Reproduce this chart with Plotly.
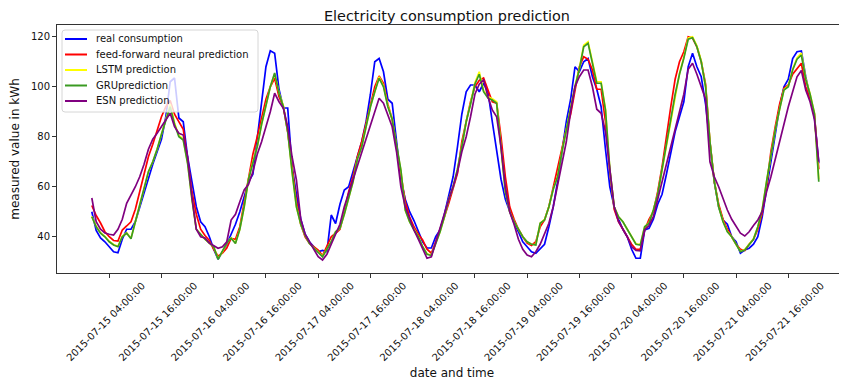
import pandas as pd
import plotly.graph_objects as go

# ---------------- data ----------------
times = pd.date_range("2015-07-15 00:00", periods=168, freq="h")

real_consumption = [
    50, 42.5, 39.5, 38, 36, 34, 33.6, 39, 43, 43, 46, 52, 57, 63, 69, 74, 79, 88, 102, 103.5, 87.5, 86, 72, 62,
    52, 46, 44, 40, 35, 31, 34, 37, 41, 45, 50, 56, 62, 65, 80, 95, 108, 114.4, 113.4, 99, 91.5, 91.5, 68, 57,
    47, 41, 38, 36, 34, 34.5, 34, 48.7, 45.3, 53, 58.7, 60, 66, 72, 78, 86, 97, 110, 111.3, 106, 95, 93.4, 78, 63,
    55, 50, 46.5, 42, 38, 35.5, 35.5, 40, 42.7, 49, 57, 64, 76, 89, 98, 100.7, 100.7, 98, 101.4, 98, 86, 75, 63, 55,
    50, 45.4, 42, 38, 36, 34, 33.4, 35, 37, 44, 52, 62, 75, 86, 95, 108, 106, 110, 111.3, 104, 99, 92, 75, 60,
    52, 47, 43, 40, 35, 31.4, 31.4, 42.7, 43.4, 47, 53, 57, 65, 73, 82, 88, 94, 108, 113.4, 108, 104, 93, 78, 62,
    52, 46.7, 45, 40, 38, 33.4, 34.7, 35.4, 37, 40, 48, 60, 70, 81, 92, 100, 103, 111.3, 114, 114.3, 104, 96, 88, 69.4,
]

ffnn_prediction = [
    52.5, 48.5, 45.5, 42, 40, 38.5, 38.3, 42.7, 44.3, 46, 51, 58, 65, 72, 77, 83, 88, 92, 94.5, 89, 86, 83, 71, 58,
    49, 43, 40.5, 38.5, 35, 32.2, 33.5, 35.5, 39.3, 39, 44, 54, 64, 73, 80, 88, 95, 100, 103.4, 96, 92, 82, 67, 54,
    45, 40, 37.3, 36, 34.7, 32.5, 36, 40, 41.4, 43, 50, 58, 64, 72, 78, 85, 92, 100, 104.3, 101.4, 93, 87, 76, 64,
    54, 48, 44, 41, 38.7, 35, 33.4, 38, 42.7, 48, 53.4, 59, 65.4, 78, 86, 94, 100, 102.5, 103.5, 99, 94, 93.4, 80, 64,
    52, 47, 43, 40, 37.5, 36.5, 38, 44, 46.7, 52, 60, 67, 76, 83, 89, 98, 108, 112, 111, 106.7, 99, 99, 86, 66,
    51, 46, 43, 40, 37, 35, 35, 42.7, 47, 50, 58, 68, 81, 92, 103, 110, 114, 120, 119.5, 116, 110, 101, 78, 62,
    53, 47, 43, 40, 37, 35, 34.5, 37, 39, 43, 49.4, 60, 74, 84, 93, 99.4, 100.7, 105, 107, 109.4, 100, 95, 89, 67,
]

lstm_prediction = [
    48.2, 44.2, 41.6, 40.2, 38.2, 36.9, 36.2, 40.2, 41.6, 39.4, 46, 53, 59, 66, 70, 75, 81, 87.5, 93, 85.5, 80.5, 79, 69.6, 55.2,
    43, 41, 39, 37.5, 36, 31.2, 34, 37.5, 39.6, 37.5, 43, 52, 63, 70, 76, 85, 93, 100, 105.2, 97.6, 92.4, 82.3, 66, 52,
    45, 40.5, 37.5, 35.5, 34, 32.2, 35, 38, 42, 43.4, 49, 56, 62, 71, 76, 84, 92, 98, 104, 100.4, 92.4, 87.3, 76, 66.7,
    50.7, 46, 42.7, 40, 36, 33.2, 32.7, 37, 42, 48, 55, 60, 67, 76, 86, 93.4, 101.6, 106, 98.4, 96, 95.2, 94, 77.4, 58,
    50, 46, 43, 40, 38, 37, 36.9, 45.4, 46.9, 52, 59, 64, 74, 83, 92, 100.3, 107.4, 116.6, 118, 110.5, 102, 102, 91, 67,
    52, 48, 46, 43, 40, 37.2, 36.9, 44, 45.6, 50.7, 57, 67, 77, 86, 97, 105.3, 111.8, 119.5, 120, 116.4, 110.4, 100, 78, 62.3,
    52, 46.2, 42.2, 40, 36.9, 34.2, 34.9, 36.9, 39.2, 44, 50.9, 62, 73, 82.7, 91, 98.9, 100.3, 107, 111.5, 113.5, 103.4, 97.2, 89.6, 63,
]

gru_prediction = [
    48, 44, 41.4, 40, 38, 36.7, 36, 40, 41.4, 39.2, 46, 53, 59, 66, 70, 75, 81, 87, 92, 85, 80, 78.7, 69.4, 55,
    43, 41, 39, 37.5, 36, 31, 34, 37.5, 39.4, 37.3, 43, 52, 63, 70, 76, 85, 93, 100, 105.5, 97.4, 92, 82, 66, 52,
    45, 40.5, 37.3, 35.5, 34, 32, 35, 38, 42, 43.4, 49, 56, 62, 71, 76, 84, 92, 98, 103.4, 100, 92, 87, 76, 66.7,
    50.7, 46, 42.7, 40, 36, 33, 32.5, 37, 42, 48, 55, 60, 67, 76, 86, 93, 101, 105, 98, 95.5, 94.7, 93.4, 77, 58,
    50, 46, 43, 40, 38, 37, 36.7, 45.4, 46.7, 52, 59, 64, 74, 83, 92, 100, 107, 116, 117.4, 110, 101.4, 101.4, 90.7, 67,
    52, 48, 46, 43, 40, 37, 36.7, 44, 45.4, 50.7, 57, 67, 77, 86, 97, 105, 111.4, 119, 119.6, 116, 110, 100, 78, 62,
    52, 46, 42, 40, 36.7, 34, 34.7, 36.7, 39, 44, 50.7, 62, 73, 82.7, 91, 98.7, 100, 106.7, 111, 112.7, 103, 97, 89.4, 62,
]

esn_prediction = [
    55.5, 46, 43, 41.5, 41, 40.7, 43, 47, 53.4, 56.5, 60, 64, 69, 75, 79, 81.4, 84, 86.7, 89.4, 84, 81.4, 80.7, 72, 56,
    43, 40, 39.5, 37.5, 36.5, 35.4, 36, 38, 46.7, 49, 54, 58.7, 61, 66, 73, 78, 84, 90, 97.4, 94, 91.4, 84, 72, 62.7,
    47, 41, 38, 35, 32, 30.7, 33, 37, 41.4, 45, 52, 57.4, 62, 68, 73.4, 79, 84, 90, 95.4, 93.4, 89, 84, 74, 60,
    52, 47, 42.7, 39, 35, 31.4, 32, 38, 44, 49, 55, 60, 66, 74, 80, 88, 97, 101, 102.7, 96, 90.7, 88, 76, 60,
    50, 45, 39, 35, 32.7, 32, 34, 37, 41, 45.4, 52, 61, 69, 78, 90, 100, 104, 106.7, 106.7, 100, 91, 89.4, 82, 66,
    52, 46, 43, 40, 36, 34.5, 34.4, 42.7, 44.5, 48, 55, 62, 69, 76, 83, 89, 97, 107, 109.4, 105, 100, 95, 70, 64,
    60, 55, 50.7, 47, 44, 41.4, 40.3, 42, 44.5, 46.7, 50, 58, 64, 71, 79, 85.4, 92, 98, 104, 106.5, 98.7, 94, 87, 70,
]

series_names = ["real consumption", "feed-forward neural prediction", "LSTM prediction",
                "GRUprediction", "ESN prediction"]
series_colors = ["#0000ff", "#ff0000", "#ffff00", "#3a9a22", "#800080"]

tick_values = ["2015-07-15 04:00:00", "2015-07-15 16:00:00", "2015-07-16 04:00:00",
               "2015-07-16 16:00:00", "2015-07-17 04:00:00", "2015-07-17 16:00:00",
               "2015-07-18 04:00:00", "2015-07-18 16:00:00", "2015-07-19 04:00:00",
               "2015-07-19 16:00:00", "2015-07-20 04:00:00", "2015-07-20 16:00:00",
               "2015-07-21 04:00:00", "2015-07-21 16:00:00", "2015-07-22 04:00:00"]
tick_labels = tick_values[:-1] + [""]
y_ticks = [40, 60, 80, 100, 120]

# ---------------- figure ----------------
# the page body adds an 8px offset, so the figure is drawn 8px smaller
OFF = 8
SW, SH = 847, 385            # screen size
PL, PR, PT, PB = 57, 847, 25, 273   # plot area in screen pixels
W, H = SW - OFF, SH - OFF
L, T = PL - OFF, PT - OFF
R = W - (PR - OFF)
B = H - (PB - OFF)
PW, PH = PR - PL, PB - PT
FONT = "DejaVu Sans"

fig = go.Figure()
all_series = [real_consumption, ffnn_prediction, lstm_prediction, gru_prediction, esn_prediction]
for vals, name, col in zip(all_series, series_names, series_colors):
    fig.add_trace(go.Scatter(x=times, y=vals, mode="lines", name=name,
                             line=dict(color=col, width=1.7), showlegend=False))

x_start = pd.Timestamp("2015-07-14 16:00")
x_end = x_start + pd.Timedelta(hours=PW / 4.353)


def px(xs):
    return (xs - PL) / PW


def py(ys):
    return (PB - ys) / PH


# manual legend (matplotlib style)
shapes = []
annotations = []
bx0, bx1, by0, by1, r = 62, 258, 30, 112, 3
path = (f"M {px(bx0 + r)},{py(by0)} L {px(bx1 - r)},{py(by0)} "
        f"Q {px(bx1)},{py(by0)} {px(bx1)},{py(by0 + r)} "
        f"L {px(bx1)},{py(by1 - r)} Q {px(bx1)},{py(by1)} {px(bx1 - r)},{py(by1)} "
        f"L {px(bx0 + r)},{py(by1)} Q {px(bx0)},{py(by1)} {px(bx0)},{py(by1 - r)} "
        f"L {px(bx0)},{py(by0 + r)} Q {px(bx0)},{py(by0)} {px(bx0 + r)},{py(by0)} Z")
shapes.append(dict(type="path", xref="paper", yref="paper", path=path,
                   fillcolor="rgba(255,255,255,0.8)", line=dict(color="#d6d6d6", width=1)))
entry_y = [39, 54.5, 70, 85.5, 101]
for yy, name, col in zip(entry_y, series_names, series_colors):
    shapes.append(dict(type="line", xref="paper", yref="paper",
                       x0=px(65), x1=px(87), y0=py(yy), y1=py(yy),
                       line=dict(color=col, width=2)))
    annotations.append(dict(text=name, xref="paper", yref="paper", x=px(94), y=py(yy),
                            xanchor="left", yanchor="middle", showarrow=False,
                            font=dict(family=FONT, size=10, color="#111")))

fig.update_layout(
    width=W, height=H,
    margin=dict(l=L, r=R, t=T, b=B, autoexpand=False),
    paper_bgcolor="white", plot_bgcolor="white",
    font=dict(family=FONT, size=10, color="#111"),
    title=dict(text="Electricity consumption prediction", x=(447 - OFF) / W, xref="container",
               xanchor="center", y=1 - (16 - OFF) / H, yref="container", yanchor="middle",
               font=dict(family=FONT, size=14.4, color="#111")),
    shapes=shapes, annotations=annotations,
    showlegend=False,
)

fig.update_xaxes(
    range=[x_start, x_end], tickmode="array", tickvals=tick_values, ticktext=tick_labels,
    tickangle=-45, ticklabelshift=33, ticklabelstandoff=-2,
    ticks="outside", ticklen=4, tickwidth=1, tickcolor="#333",
    showline=True, linecolor="#333", linewidth=1, mirror=True, showgrid=False, zeroline=False,
    tickfont=dict(family=FONT, size=10, color="#111"),
    title=dict(text="date and time", font=dict(family=FONT, size=12, color="#111"), standoff=6),
)
fig.update_yaxes(
    range=[25.5, 124.7], tickmode="array", tickvals=y_ticks,
    ticks="outside", ticklen=4, tickwidth=1, tickcolor="#333",
    showline=True, linecolor="#333", linewidth=1, mirror=False, showgrid=False, zeroline=False,
    tickfont=dict(family=FONT, size=10, color="#111"),
    title=dict(text="measured value in kWh", font=dict(family=FONT, size=12, color="#111"), standoff=12),
)

fig.write_html("out.html")
